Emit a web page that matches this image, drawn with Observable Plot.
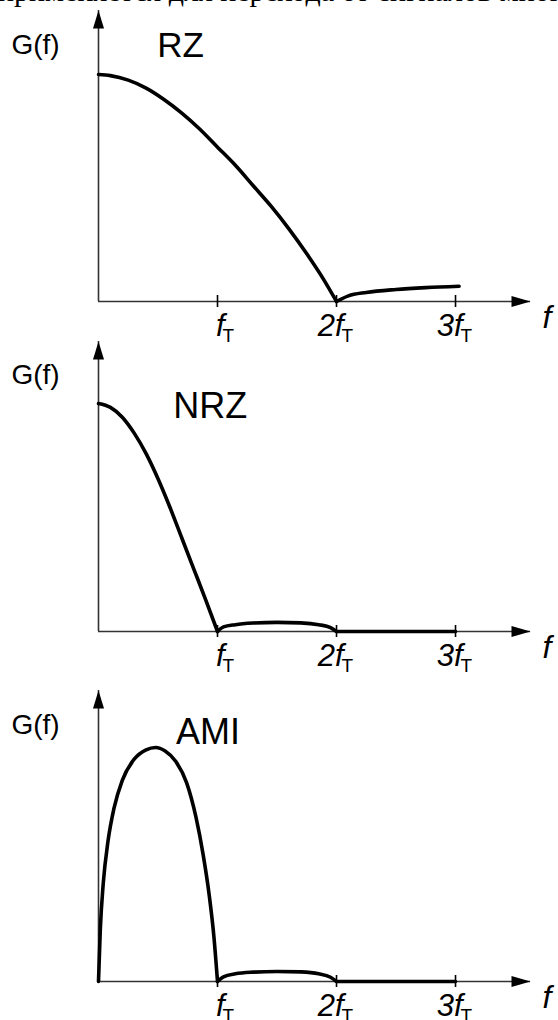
<!DOCTYPE html>
<html>
<head>
<meta charset="utf-8">
<script src="https://cdn.jsdelivr.net/npm/d3@7"></script>
<script src="https://cdn.jsdelivr.net/npm/@observablehq/plot@0.6"></script>
<style>
  html, body { margin: 0; padding: 0; background: #fff; }
  #wrap { position: relative; width: 558px; height: 1020px; overflow: hidden; background: #fff; }
  #toptext { position: absolute; left: -2px; top: -24px; width: 700px; white-space: nowrap;
    font-family: "Liberation Serif", "DejaVu Serif", serif; font-size: 30px; line-height: 30px; color: #000; }
  .panel { position: absolute; left: 0; }
  .panel svg { overflow: visible; background: transparent !important; }
</style>
</head>
<body>
<div id="wrap">
  <div id="toptext">применяется для перехода от сигналов многоуровневых</div>
</div>
<script>
// ---- data (frequency in units of f_T, G normalised) ----
const tickPositions = [1, 2, 3];
const tickMain = ["f", "2f", "3f"];
const tickSub = ["Т", "Т", "Т"];
const titles = ["RZ", "NRZ", "AMI"];
const yLabel = "G(f)";
const xLabel = "f";

// RZ
const rzMainF = [0, 0.1, 0.25, 0.4, 0.55, 0.7, 0.85, 1.0, 1.15, 1.3, 1.45, 1.6, 1.75, 1.9, 2.0];
const rzMainG = [1.0, 0.995, 0.975, 0.94, 0.89, 0.83, 0.76, 0.68, 0.6, 0.51, 0.42, 0.32, 0.21, 0.09, 0.0];
const rzSideF = [2.0, 2.1, 2.25, 2.5, 2.75, 3.03];
const rzSideG = [0.0, 0.025, 0.04, 0.053, 0.061, 0.067];

// NRZ
const nrzMainF = [0, 0.1, 0.2, 0.3, 0.4, 0.5, 0.6, 0.7, 0.8, 0.9, 1.0];
const nrzMainG = [1.0, 0.983, 0.94, 0.87, 0.78, 0.67, 0.545, 0.41, 0.275, 0.14, 0.0];
const nrzSideF = [1.0, 1.05, 1.15, 1.3, 1.5, 1.7, 1.85, 1.95, 2.0];
const nrzSideG = [0.0, 0.02, 0.03, 0.037, 0.04, 0.038, 0.03, 0.017, 0.0];
const nrzTailF = [2.0, 3.0];
const nrzTailG = [0.0, 0.0];

// AMI
const amiMainF = [0, 0.015, 0.04, 0.08, 0.13, 0.2, 0.3, 0.4, 0.48, 0.56, 0.65, 0.74, 0.82, 0.88, 0.93, 0.97, 1.0];
const amiMainG = [0.0, 0.22, 0.42, 0.6, 0.74, 0.86, 0.95, 0.99, 1.0, 0.985, 0.94, 0.85, 0.7, 0.54, 0.37, 0.19, 0.0];
const amiSideF = [1.0, 1.05, 1.15, 1.3, 1.5, 1.7, 1.85, 1.95, 2.0];
const amiSideG = [0.0, 0.02, 0.033, 0.04, 0.043, 0.041, 0.033, 0.018, 0.0];
const amiTailF = [2.0, 3.0];
const amiTailG = [0.0, 0.0];

// ---- helpers ----
function seg(name, fs, gs) { return fs.map((f, i) => ({seg: name, f, g: gs[i]})); }

const arrowUp = { draw(ctx) { ctx.moveTo(0, 0); ctx.lineTo(5.5, 18); ctx.lineTo(-5.5, 18); ctx.closePath(); } };
const arrowRight = { draw(ctx) { ctx.moveTo(0, 0); ctx.lineTo(-19, -5.5); ctx.lineTo(-19, 5.5); ctx.closePath(); } };

const XMAX = 3.63;
const font = "Liberation Sans, Arial, sans-serif";

function panel({top, height, axisY, tipY, curves, title, titleX, titleDy, titleSize}) {
  const marginTop = tipY - top;
  const marginBottom = top + height - axisY;
  const chart = Plot.plot({
    width: 558,
    height,
    marginLeft: 98,
    marginRight: 28,
    marginTop,
    marginBottom,
    x: {domain: [0, XMAX], axis: null},
    y: {domain: [0, curves.yTop], axis: null},
    style: {background: "transparent", overflow: "visible"},
    marks: [
      // axes
      Plot.ruleY([0], {x1: 0, x2: XMAX, stroke: "#333", strokeWidth: 1.6}),
      Plot.ruleX([0], {y1: 0, y2: curves.yTop, stroke: "#333", strokeWidth: 1.6}),
      Plot.dot([0], {x: 0, y: curves.yTop, symbol: arrowUp, fill: "#000", stroke: null}),
      Plot.dot([0], {x: XMAX, y: 0, symbol: arrowRight, fill: "#000", stroke: null}),
      // ticks
      Plot.tickX(tickPositions, {x: d => d, stroke: "#000", strokeWidth: 1.6,
        render(index, scales, values, dimensions, context, next) {
          const g = next(index, scales, values, dimensions, context);
          const y0 = scales.y(0);
          d3.select(g).selectAll("line").attr("y1", y0 - 6).attr("y2", y0 + 6);
          return g;
        }}),
      // curves
      Plot.line(curves.data, {x: "f", y: "g", z: "seg", curve: "monotone-x",
        stroke: "#000", strokeWidth: 3.6, strokeLinejoin: "round", strokeLinecap: "round"}),
      // tick labels
      Plot.text(tickPositions, {x: d => d, y: 0, text: (d, i) => tickMain[i], textAnchor: "end",
        dx: 7, dy: 25, fontSize: 31, fontStyle: "italic", fontFamily: font, fill: "#000"}),
      Plot.text(tickPositions, {x: d => d, y: 0, text: (d, i) => tickSub[i], textAnchor: "start",
        dx: 5, dy: 34, fontSize: 19, fontFamily: font, fill: "#000"}),
      // axis labels
      Plot.text([xLabel], {x: XMAX, y: 0, text: d => d, textAnchor: "start", dx: 12, dy: 16,
        fontSize: 32, fontStyle: "italic", fontFamily: font, fill: "#000"}),
      Plot.text([yLabel], {x: 0, y: 0, text: d => d, textAnchor: "middle", dx: -63, dy: -256,
        fontSize: 28, fontFamily: font, fill: "#000"}),
      // title
      Plot.text([title], {x: titleX, y: 0, text: d => d, textAnchor: "middle", dy: titleDy,
        fontSize: titleSize, fontFamily: font, fill: "#000"})
    ]
  });
  const div = document.createElement("div");
  div.className = "panel";
  div.style.top = top + "px";
  div.appendChild(chart);
  document.getElementById("wrap").appendChild(div);
}

// peak-to-axis distances: RZ 227 px, NRZ 228 px, AMI 234 px
panel({top: 0, height: 345, axisY: 301, tipY: 10, title: titles[0], titleX: 0.69, titleDy: -256, titleSize: 35,
  curves: {yTop: (301 - 10) / 227, data: [...seg("a", rzMainF, rzMainG), ...seg("b", rzSideF, rzSideG)]}});
panel({top: 335, height: 345, axisY: 631, tipY: 341, title: titles[1], titleX: 0.94, titleDy: -225, titleSize: 36,
  curves: {yTop: (631 - 341) / 228, data: [...seg("a", nrzMainF, nrzMainG), ...seg("b", nrzSideF, nrzSideG), ...seg("c", nrzTailF, nrzTailG)]}});
panel({top: 680, height: 340, axisY: 981, tipY: 690, title: titles[2], titleX: 0.92, titleDy: -249, titleSize: 36,
  curves: {yTop: (981 - 690) / 234, data: [...seg("a", amiMainF, amiMainG), ...seg("b", amiSideF, amiSideG), ...seg("c", amiTailF, amiTailG)]}});
</script>
</body>
</html>
